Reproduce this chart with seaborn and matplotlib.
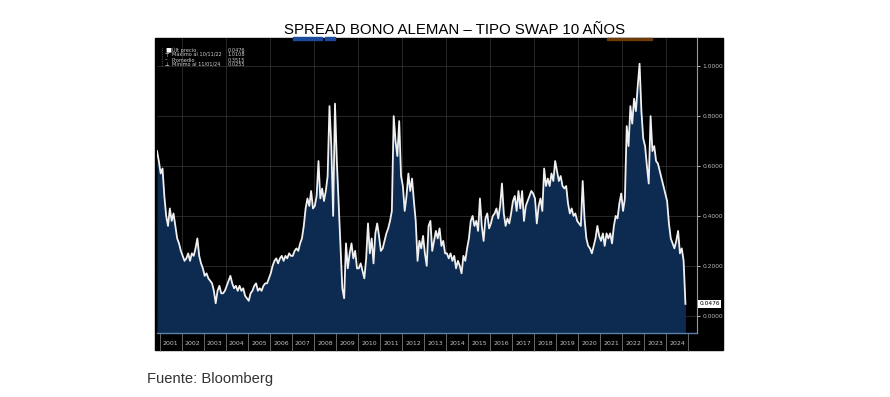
import pandas as pd
import matplotlib.pyplot as plt
import seaborn as sns
from matplotlib.patches import Rectangle
from matplotlib.lines import Line2D
import matplotlib.transforms as mtransforms

# monthly readings of the spread (Bund 10y - swap 10y), Nov 2000 .. Nov 2024
y2000 = [0.66, 0.62]
y2001 = [0.57, 0.59, 0.48, 0.40, 0.36, 0.43, 0.38, 0.41, 0.36, 0.31, 0.29, 0.26]
y2002 = [0.24, 0.22, 0.23, 0.25, 0.22, 0.25, 0.24, 0.27, 0.31, 0.24, 0.21, 0.19]
y2003 = [0.16, 0.17, 0.15, 0.14, 0.13, 0.10, 0.05, 0.10, 0.12, 0.09, 0.09, 0.10]
y2004 = [0.12, 0.14, 0.16, 0.13, 0.11, 0.12, 0.10, 0.12, 0.10, 0.11, 0.08, 0.07]
y2005 = [0.06, 0.09, 0.10, 0.12, 0.13, 0.10, 0.11, 0.10, 0.12, 0.13, 0.13, 0.15]
y2006 = [0.17, 0.20, 0.22, 0.23, 0.21, 0.23, 0.24, 0.22, 0.24, 0.23, 0.25, 0.24]
y2007 = [0.24, 0.26, 0.27, 0.26, 0.29, 0.31, 0.36, 0.43, 0.47, 0.44, 0.50, 0.43]
y2008 = [0.44, 0.48, 0.62, 0.47, 0.51, 0.46, 0.50, 0.56, 0.84, 0.68, 0.40, 0.85]
y2009 = [0.62, 0.45, 0.27, 0.11, 0.07, 0.29, 0.19, 0.25, 0.29, 0.23, 0.26, 0.19]
y2010 = [0.19, 0.21, 0.18, 0.15, 0.23, 0.37, 0.25, 0.31, 0.21, 0.33, 0.37, 0.32]
y2011 = [0.26, 0.27, 0.30, 0.33, 0.35, 0.38, 0.42, 0.80, 0.70, 0.64, 0.78, 0.56]
y2012 = [0.52, 0.42, 0.48, 0.57, 0.50, 0.55, 0.46, 0.38, 0.22, 0.30, 0.27, 0.32]
y2013 = [0.25, 0.20, 0.36, 0.38, 0.26, 0.30, 0.34, 0.31, 0.35, 0.28, 0.30, 0.25]
y2014 = [0.25, 0.23, 0.25, 0.22, 0.24, 0.19, 0.22, 0.20, 0.17, 0.24, 0.22, 0.27]
y2015 = [0.31, 0.38, 0.40, 0.36, 0.38, 0.34, 0.47, 0.36, 0.30, 0.39, 0.41, 0.35]
y2016 = [0.37, 0.40, 0.41, 0.43, 0.39, 0.44, 0.53, 0.41, 0.36, 0.39, 0.37, 0.41]
y2017 = [0.46, 0.48, 0.42, 0.50, 0.43, 0.50, 0.38, 0.44, 0.46, 0.48, 0.50, 0.49]
y2018 = [0.47, 0.37, 0.44, 0.47, 0.42, 0.59, 0.52, 0.55, 0.52, 0.57, 0.54, 0.62]
y2019 = [0.58, 0.54, 0.56, 0.52, 0.51, 0.52, 0.45, 0.41, 0.43, 0.40, 0.41, 0.38]
y2020 = [0.37, 0.36, 0.54, 0.39, 0.31, 0.28, 0.27, 0.25, 0.28, 0.31, 0.36, 0.32]
y2021 = [0.30, 0.33, 0.28, 0.33, 0.31, 0.33, 0.29, 0.36, 0.40, 0.39, 0.45, 0.49]
y2022 = [0.42, 0.47, 0.76, 0.68, 0.84, 0.77, 0.87, 0.82, 0.92, 1.01, 0.82, 0.71]
y2023 = [0.68, 0.60, 0.53, 0.80, 0.66, 0.68, 0.62, 0.61, 0.58, 0.55, 0.52, 0.49]
y2024 = [0.46, 0.37, 0.31, 0.29, 0.27, 0.30, 0.34, 0.25, 0.27, 0.22, 0.0476]

legend_labels = ['Últ precio', 'Máximo al 10/11/22', 'Promedio', 'Mínimo al 11/01/24']
legend_values = ['0.0476', '1.0108', '0.3515', '0.0255']
legend_marks = ['■', '⊤', '–', '⊥']
y_ticks = [0.0, 0.2, 0.4, 0.6, 0.8, 1.0]
year_labels = list(range(2001, 2025))

series = [y2000, y2001, y2002, y2003, y2004, y2005, y2006, y2007, y2008,
          y2009, y2010, y2011, y2012, y2013, y2014, y2015, y2016, y2017,
          y2018, y2019, y2020, y2021, y2022, y2023, y2024]
rows = []
for yr, vals in zip(range(2000, 2025), series):
    m0 = 11 if yr == 2000 else 1
    for i, v in enumerate(vals):
        rows.append((yr + (m0 - 1 + i + 0.5) / 12, v))
df = pd.DataFrame(rows, columns=['t', 'spread'])

W, H = 890, 397
def fx(x):
    return x / W
def fy(y):
    return 1 - y / H

fig = plt.figure(figsize=(8.9, 3.97), dpi=100, facecolor='white')
fig.patches.append(Rectangle((fx(155), fy(350)), (723 - 155) / W, (350 - 38) / H,
                             transform=fig.transFigure, color='black', zorder=-5))
# cut-off header tabs of the terminal screenshot
fig.patches.append(Rectangle((fx(293), fy(39.5)), 29 / W, 2 / H, transform=fig.transFigure,
                             color='#1c4a9a', zorder=6))
fig.patches.append(Rectangle((fx(325), fy(39.5)), 10 / W, 2 / H, transform=fig.transFigure,
                             color='#1c4a9a', zorder=6))
fig.patches.append(Rectangle((fx(607), fy(39.5)), 45 / W, 1.5 / H, transform=fig.transFigure,
                             color='#6e3a08', zorder=6))

ax = fig.add_axes([fx(157), fy(333), (697 - 157) / W, (333 - 38) / H])
ax.set_zorder(1)
ax.set_facecolor('black')
ymin, ymax = -0.069, 1.113
ax.fill_between(df['t'], df['spread'], ymin, color='#0d2a50', lw=0, zorder=2)
sns.lineplot(data=df, x='t', y='spread', ax=ax, color='#f0f0f0', lw=1.3, zorder=3)
ax.set_xlim(df['t'].iloc[0], 2025.4)
ax.set_ylim(ymin, ymax)

# right value axis
ax.yaxis.tick_right()
ax.set_yticks(y_ticks)
ax.set_yticklabels([f'{v:.4f}' for v in y_ticks])
ax.tick_params(axis='y', colors='#bbbbbb', labelsize=4.3, length=2.5, width=0.7, pad=1.5)
for v in y_ticks:
    ax.axhline(v, color='#383838', lw=0.5, zorder=1)
for yr in range(2002, 2025, 2):
    ax.axvline(yr, color='#383838', lw=0.5, zorder=1)

# year axis: labels centred, separators at year boundaries
ax.set_xticks([y + 0.5 for y in year_labels])
ax.set_xticklabels([str(y) for y in year_labels])
ax.set_xticks(list(range(2001, 2026)), minor=True)
ax.tick_params(axis='x', which='major', length=0, colors='#c0c0c0', labelsize=4.5, pad=6)
ax.tick_params(axis='x', which='minor', length=13, width=0.6, color='#777777')
ax.set_xlabel('')
ax.set_ylabel('')

for s in ['left', 'top']:
    ax.spines[s].set_visible(False)
ax.spines['right'].set_color('#999999')
ax.spines['right'].set_linewidth(0.8)
ax.spines['bottom'].set_color('#5d7fae')
ax.spines['bottom'].set_linewidth(1.0)

# last price tag
last = df['spread'].iloc[-1]
tr = mtransforms.blended_transform_factory(ax.transAxes, ax.transData)
ax.text(1.004, last, f'{last:.4f}', transform=tr, ha='left', va='center',
        fontsize=4.2, color='black', clip_on=False,
        bbox=dict(boxstyle='square,pad=0.2', fc='white', ec='none'))

# legend block
fig.lines.append(Line2D([fx(162), fx(162)], [fy(48), fy(66)], transform=fig.transFigure,
                        color='#888888', lw=0.5, ls=':', zorder=5))
for i, (lab, val, mk) in enumerate(zip(legend_labels, legend_values, legend_marks)):
    yy = fy(50 + 5 * i)
    fig.text(fx(165), yy, mk, fontsize=3.8 if i else 4.5, color='white', ha='left', va='center', zorder=5)
    fig.text(fx(172), yy, lab, fontsize=3.6, color='#d0d0d0', ha='left', va='center', zorder=5)
    fig.text(fx(228), yy, val, fontsize=3.6, color='#d0d0d0', ha='left', va='center', zorder=5)

fig.text(fx(455), fy(30), 'SPREAD BONO ALEMAN – TIPO SWAP 10 AÑOS', ha='center', va='center',
         fontsize=10.8, color='black', family='Liberation Sans')
fig.text(fx(147), fy(379), 'Fuente: Bloomberg', ha='left', va='center',
         fontsize=10.6, color='#333333', family='Liberation Sans')

fig.savefig('out.png', dpi=100, facecolor='white')
